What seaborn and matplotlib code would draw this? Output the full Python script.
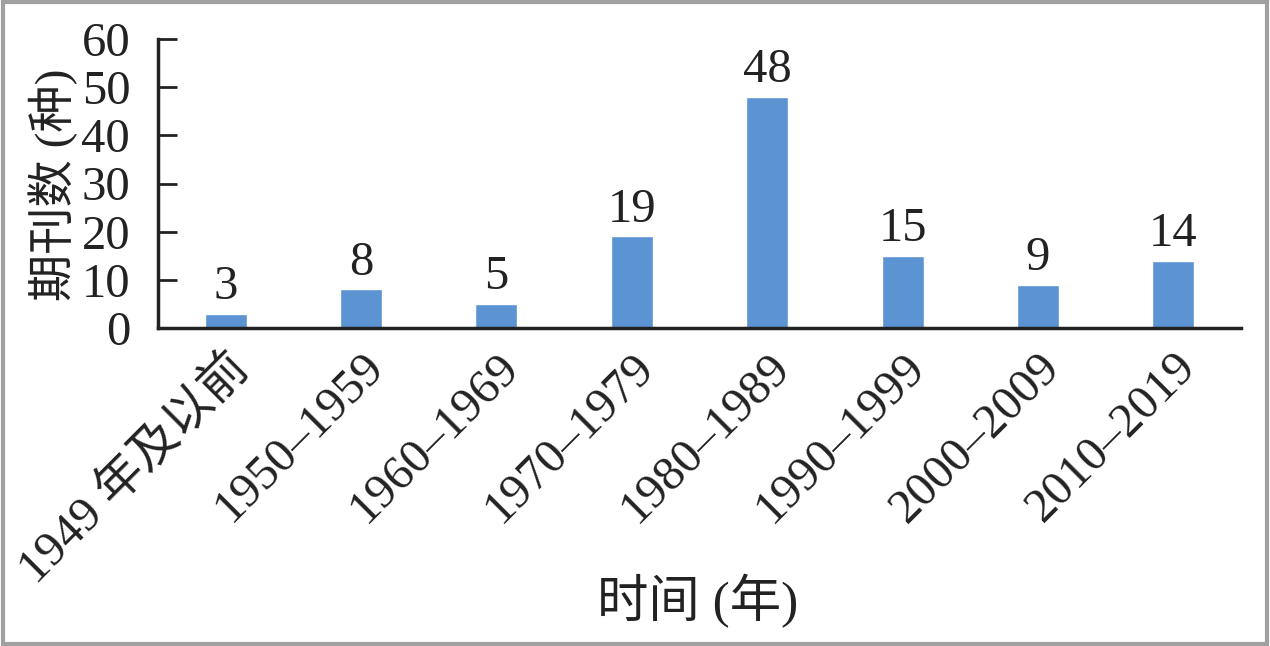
import matplotlib
matplotlib.use('Agg')
import matplotlib.pyplot as plt
import seaborn as sns
import pandas as pd
from matplotlib.patches import Rectangle

periods = ['1949 年及以前', '1950–1959', '1960–1969', '1970–1979',
           '1980–1989', '1990–1999', '2000–2009', '2010–2019']
counts = [3, 8, 5, 19, 48, 15, 9, 14]
yticks = [0, 10, 20, 30, 40, 50, 60]

sns.set_theme(style='white')
plt.rcParams['font.family'] = ['Liberation Serif', 'Noto Sans CJK SC']

df = pd.DataFrame({'period': periods, 'count': counts})

fig = plt.figure(figsize=(12.7, 6.46), dpi=100)
ax = fig.add_axes([158 / 1270, 1 - 328 / 646, (1241 - 158) / 1270, (328 - 39) / 646])

sns.barplot(data=df, x='period', y='count', color='#5b93d3', width=0.31,
            saturation=1, ax=ax)

for i, v in enumerate(counts):
    ax.text(i, v + 1.0, str(v), ha='center', va='bottom', fontsize=35, color='#222222')

ax.set_xlim(-0.5, 7.5)
ax.set_ylim(0, 60)
ax.set_yticks(yticks)
ax.tick_params(axis='y', direction='in', length=14, width=2, color='#222222',
               labelsize=35, labelcolor='#222222', pad=20, left=True)
ax.tick_params(axis='x', length=0, labelsize=35, labelcolor='#222222', pad=12)
plt.setp(ax.get_xticklabels(), rotation=45, ha='right', rotation_mode='anchor')

for s in ['top', 'right']:
    ax.spines[s].set_visible(False)
for s in ['left', 'bottom']:
    ax.spines[s].set_linewidth(2.5)
    ax.spines[s].set_color('#222222')

ax.set_xlabel('时间 (年)', fontsize=37, color='#222222')
ax.set_ylabel('期刊数 (种)', fontsize=34, color='#222222')
ax.xaxis.set_label_coords((698 - 158) / 1083, -(574 - 328) / 289)
ax.yaxis.set_label_coords(-(158 - 78) / 1083, (328 - 185) / 289)

fig.patches.append(Rectangle((0.002, 0.003), 0.996, 0.994, transform=fig.transFigure,
                             fill=False, edgecolor='#a0a0a0', linewidth=3))

fig.savefig('out.png', dpi=100)
